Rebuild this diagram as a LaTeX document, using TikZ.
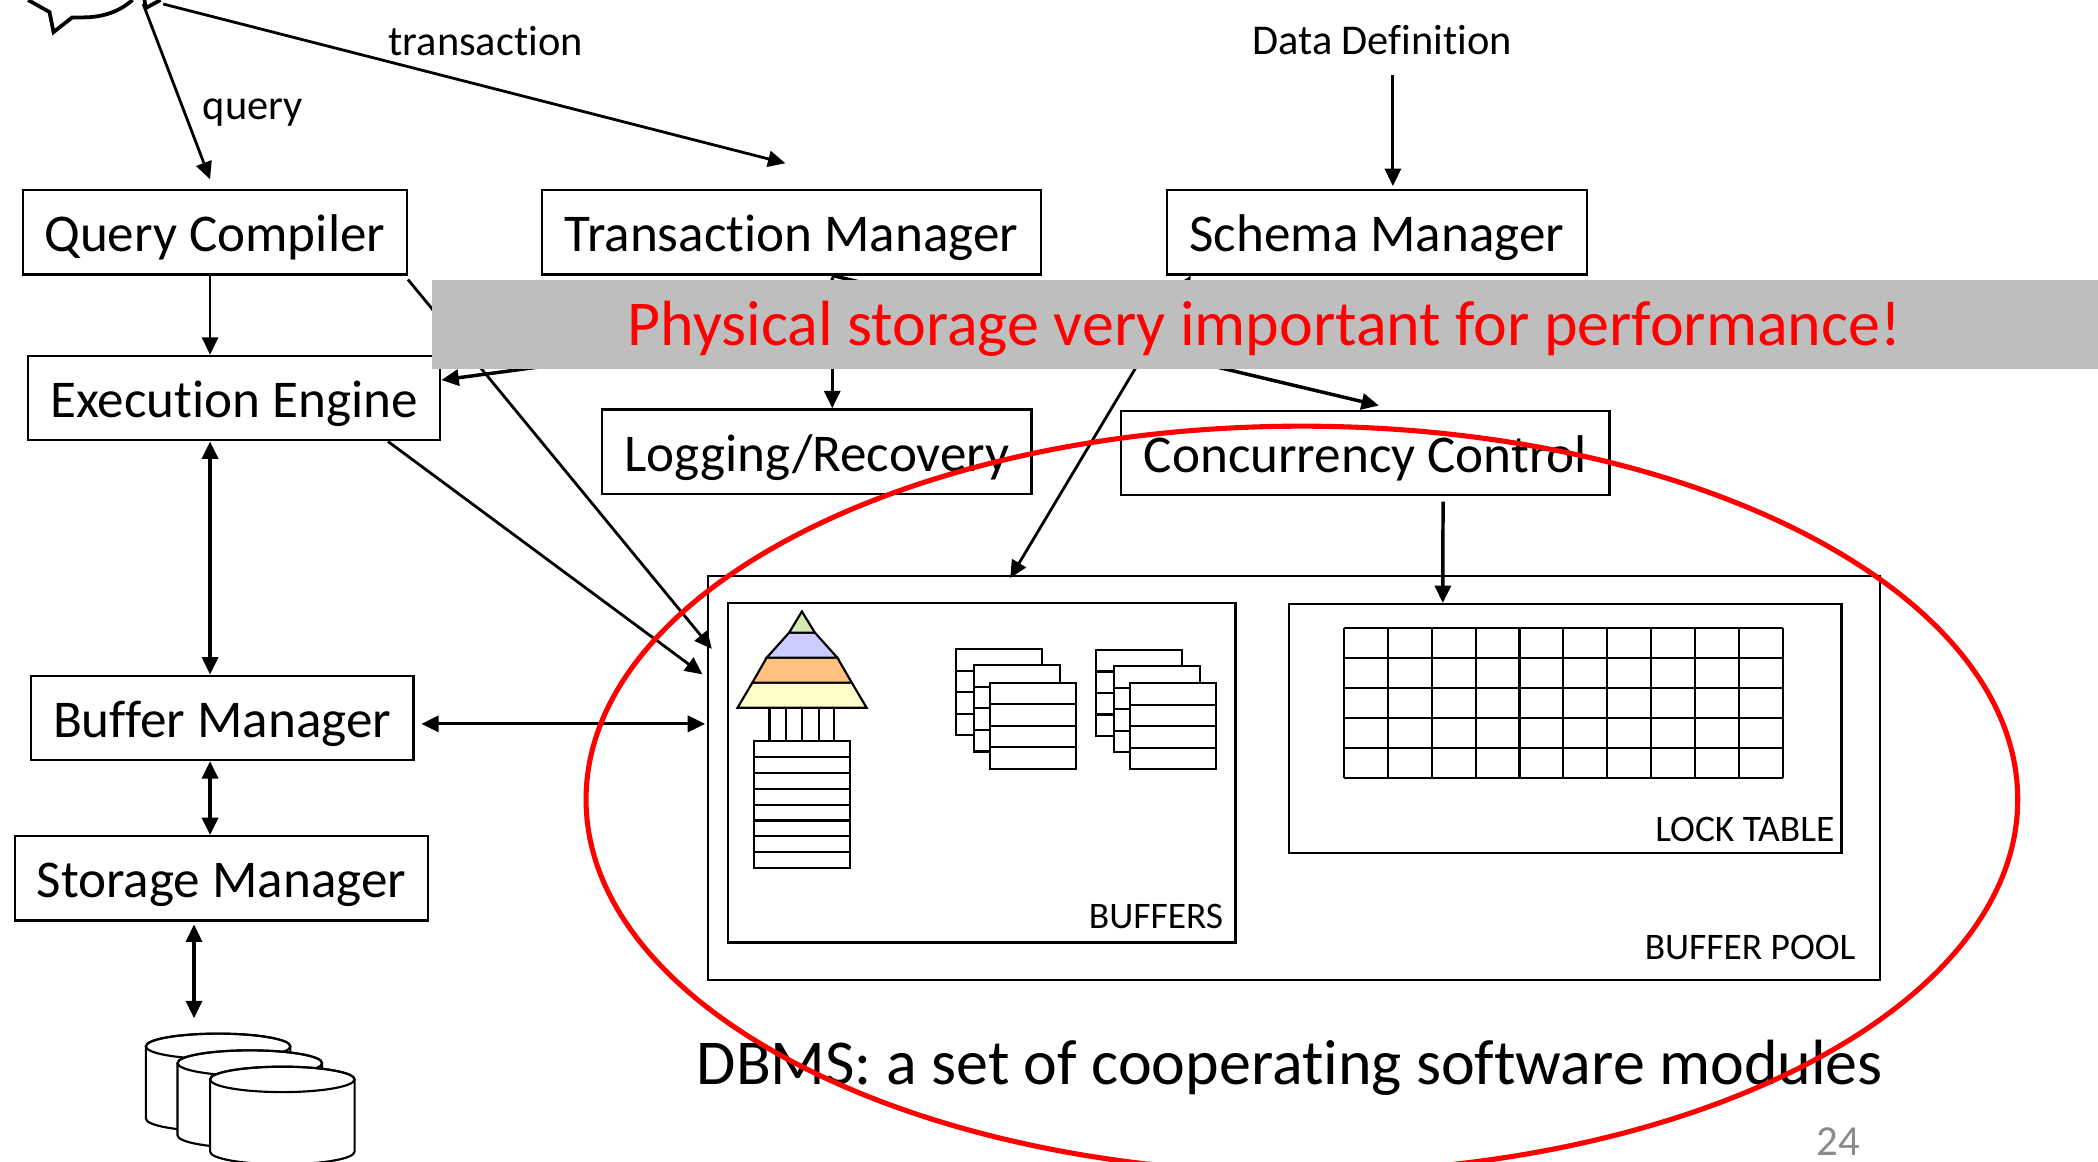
\documentclass[tikz,border=0pt]{standalone}
\usepackage{fontspec}
\setmainfont[Ligatures=NoCommon]{Carlito}
\usetikzlibrary{arrows.meta}

\definecolor{bandColor}{RGB}{190,190,190}
\definecolor{pageColor}{RGB}{139,139,139}
\definecolor{topColor}{RGB}{216,232,180}
\definecolor{secondColor}{RGB}{204,204,255}
\definecolor{thirdColor}{RGB}{255,192,128}
\definecolor{baseColor}{RGB}{255,255,204}

\tikzset{
  box/.style={draw,line width=.9pt,inner sep=0pt,minimum height=31.5pt,text height=18pt,text depth=3.4pt,font=\fontsize{19.85}{23}\selectfont},
  area/.style={draw,line width=.9pt,inner sep=0pt},
  lbl/.style={inner sep=0pt,font=\fontsize{15.85}{18}\selectfont},
  areaText/.style={inner sep=0pt,font=\fontsize{14}{17}\selectfont},
  conn/.style={line width=1.05pt,-{Triangle[length=6.5pt,width=6pt]}},
  both/.style={line width=1.2pt,{Triangle[length=6.5pt,width=6pt]}-{Triangle[length=6.5pt,width=6pt]}},
  part/.style={line width=.8pt,fill=white}
}

\begin{document}
\begin{tikzpicture}[x=.5pt,y=-.5pt]
  \useasboundingbox (0,0) rectangle (1568,868);
  % Users
  \draw[line width=1.4pt] (21,0) -- (37,9) -- (40,24) -- (54,13) -- (62,13) .. controls (78,13) and (90,8) .. (99,0);
  \draw[line width=1.4pt] (108,0) -- (109,6) -- (120,0);
  \coordinate (userQ) at (107,3);
  \coordinate (userT) at (122,3);
  \coordinate (compIn) at (157,134);
  \coordinate (tmIn) at (587,122);
  \coordinate (ddOut) at (1041,56);
  \node[lbl] (query) at (189,84) {query};
  \node[lbl] (transaction) at (363,31) {transaction};
  \node[lbl] (dataDef) at (1033,30) {Data Definition};
  % Modules
  \node[box,minimum width=143.5pt] (qc) at (160.5,173.5) {Query Compiler};
  \node[box,minimum width=186.5pt] (tm) at (591.5,173.5) {Transaction Manager};
  \node[box,minimum width=157pt] (sm) at (1029,173.5) {Schema Manager};
  \node[box,minimum width=154pt] (ee) at (175,297.5) {Execution Engine};
  \node[box,minimum width=160.5pt] (lr) at (610.5,337.5) {Logging/Recovery};
  \node[box,minimum width=182.5pt] (cc) at (1020.5,338.5) {Concurrency Control};
  \node[box,minimum width=143pt] (bm) at (166,536.5) {Buffer Manager};
  \node[box,minimum width=154.5pt] (st) at (165.5,656.5) {Storage Manager};
  % Buffer pool
  \node[area,minimum width=438pt,minimum height=151pt] (pool) at (967,581.5) {};
  \node[area,minimum width=189.5pt,minimum height=127pt] (bufs) at (733.8,577.5) {};
  \node[area,minimum width=206.5pt,minimum height=93pt] (lock) at (1169.8,544.5) {};
  \node[areaText] (poolText) at (1308,708) {BUFFER POOL};
  \node[areaText] (bufsText) at (864,685) {BUFFERS};
  \node[areaText] (lockText) at (1304,620) {LOCK TABLE};
  \coordinate (poolA) at (525,504);
  \coordinate (poolB) at (532,485);
  \coordinate (poolC) at (527,541);
  \coordinate (poolD) at (755,432);
  \coordinate (diskIn) at (145,761);
  % Pyramid
  \draw[part,fill=baseColor] (551.2,529) -- (647.7,529) -- (636.6,510.2) -- (562.3,510.2) -- cycle;
  \draw[part,fill=thirdColor] (562.3,510.2) -- (636.6,510.2) -- (625.8,491.5) -- (573,491.5) -- cycle;
  \draw[part,fill=secondColor] (573,491.5) -- (625.8,491.5) -- (609,472.8) -- (589.8,472.8) -- cycle;
  \draw[part,fill=topColor] (589.8,472.8) -- (609,472.8) -- (599.3,457) -- cycle;
  \foreach \x in {575.1,587.5,599.3,611.8,623.1}
    \draw[line width=.8pt] (\x,529) -- (\x,553.8);
  \draw[part] (563.3,554) rectangle (635.1,648.8);
  \foreach \i in {1,...,7}
    \draw[line width=.8pt] (563.3,554+\i*11.84) -- (635.1,554+\i*11.84);
  % Page stacks
  \foreach \gx/\gy in {0/0,104.6/.5}
    \foreach \dx/\dy in {0/0,13.4/12,25.4/24.9} {
      \draw[part] (714.3+\gx+\dx,485.3+\gy+\dy) rectangle ++(64.3,64.3);
      \foreach \i in {1,2,3}
        \draw[line width=.8pt] (714.3+\gx+\dx,485.3+\gy+\dy+\i*16.07) -- ++(64.3,0);
    }
  % Lock table
  \foreach \i in {0,...,10}
    \draw[line width=.8pt] (1004.4+\i*32.8,469.4) -- (1004.4+\i*32.8,581.4);
  \foreach \j in {0,...,5}
    \draw[line width=.8pt] (1004.4,469.4+\j*22.4) -- (1332.4,469.4+\j*22.4);
  % Disks
  \foreach \cx/\cy in {163/782,186.7/794.5,211/806.7} {
    \draw[line width=.8pt,fill=white] (\cx-54,\cy) -- ++(0,54) arc(180:0:54 and 9.5) -- ++(0,-54) arc(0:-180:54 and 9.5) -- cycle;
    \draw[line width=.8pt] (\cx,\cy) ellipse (54 and 9.5);
  }
  % Connectors
  \draw[conn] (userQ) -- (compIn);
  \draw[conn] (userT) -- (tmIn);
  \draw[conn] (ddOut) -- ([xshift=6pt,yshift=1pt]sm.north);
  \draw[conn] ([xshift=-1.75pt]qc.south) -- ([xshift=-9pt]ee.north);
  \draw[conn] ([yshift=-1.5pt]qc.south east) -- (poolB);
  \draw[conn] ([xshift=-20pt]ee.south east) -- (poolA);
  \draw[both] ([xshift=-9pt]ee.south) -- ([xshift=-4.5pt]bm.north);
  \draw[both] ([xshift=-4.5pt]bm.south) -- ([xshift=-4.25pt]st.north);
  \draw[both] ([xshift=-10.25pt,yshift=-1pt]st.south) -- (diskIn);
  \draw[both] ([shift={(2.5pt,-2.25pt)}]bm.east) -- (poolC);
  \draw[both] ([xshift=15.25pt]tm.south) -- ([xshift=5.75pt]lr.north);
  \coordinate (tmSide) at (622,245);
  \draw[conn,line width=1.3pt] (tmSide) -- ([yshift=6.75pt]ee.east);
  \draw[conn,line width=1.3pt] ([xshift=15.25pt]tm.south) -- ([xshift=5pt,yshift=1.5pt]cc.north);
  \draw[both,line width=1.05pt] ([xshift=-69.5pt]sm.south) -- (poolD);
  \draw[conn,line width=1.3pt] ([xshift=29pt,yshift=-2pt]cc.south) -- ([xshift=-45.75pt]lock.north);
  % Overlay
  \node[inner sep=0pt,font=\fontsize{23.9}{28}\selectfont] (title) at (964,798) {DBMS: a set of cooperating software modules};
  \node[inner sep=0pt,text=pageColor,font=\fontsize{16}{19}\selectfont] (page) at (1374,853) {24};
  \node[fill=bandColor,inner sep=0pt,minimum width=622.5pt,minimum height=33.5pt] (band) at (945.5,242.5) {};
  \node[inner sep=0pt,text=red,font=\fontsize{23.9}{28}\selectfont] (bandText) at (945,246) {Physical storage very important for performance!};
  \draw[red,line width=1.9pt] (973,597.5) ellipse (535 and 279);
\end{tikzpicture}
\end{document}
